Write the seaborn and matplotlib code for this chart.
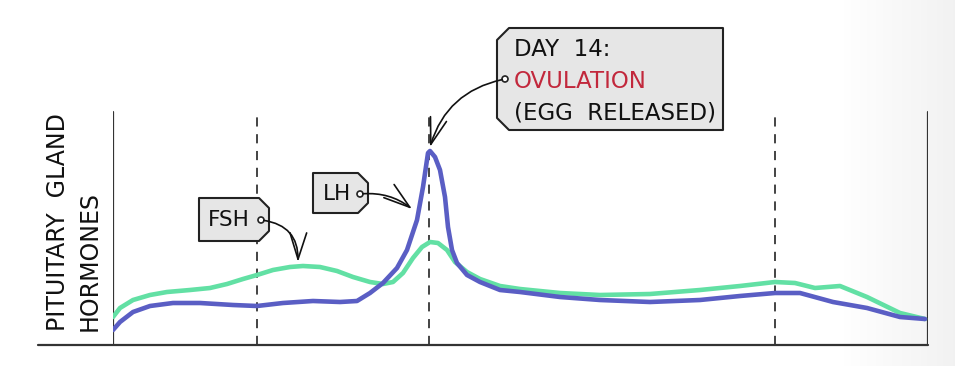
import numpy as np
import pandas as pd
import seaborn as sns
import matplotlib.pyplot as plt
from matplotlib.patches import Polygon, Circle

# position along the cycle (0 = left axis, 815 = right axis), hormone level above the baseline
fsh_pos = [0, 7, 20, 37, 54, 77, 97, 114, 130, 144, 160, 177, 190, 207, 224, 240, 257, 270, 280,
           290, 300, 309, 317, 325, 334, 342, 354, 367, 387, 407, 447, 487, 537, 587, 627, 662,
           682, 702, 727, 754, 787, 812]
fsh_level = [28, 37, 45, 50, 53, 55, 57, 61, 66, 70, 75, 78, 79, 78, 74, 68, 63, 61, 63,
             72, 87, 98, 103, 102, 95, 83, 73, 66, 59, 56, 52, 50, 51, 55, 59, 63,
             62, 57, 59, 48, 32, 26]
lh_pos = [0, 7, 20, 37, 60, 87, 120, 144, 170, 200, 227, 244, 257, 270, 284, 294, 304, 310, 315,
          317, 322, 327, 332, 335, 339, 344, 354, 367, 387, 407, 447, 487, 537, 587, 627, 662,
          687, 720, 754, 787, 812]
lh_level = [15, 23, 33, 39, 42, 42, 40, 39, 42, 44, 43, 44, 52, 62, 77, 95, 125, 158, 192,
            194, 188, 175, 148, 118, 95, 82, 70, 63, 55, 53, 48, 45, 43, 45, 49, 52,
            52, 43, 37, 28, 26]
phase_marks = [144, 316, 662]

df = pd.concat([
    pd.DataFrame({"pos": fsh_pos, "level": fsh_level, "hormone": "FSH"}),
    pd.DataFrame({"pos": lh_pos, "level": lh_level, "hormone": "LH"}),
])

sns.set_style("white")
plt.rcParams["font.family"] = ["DejaVu Sans"]

W, H = 955, 366
fig = plt.figure(figsize=(W / 100, H / 100), dpi=100)

# background: light grey fade on the right
bg = fig.add_axes([0, 0, 1, 1], zorder=0)
grad = np.clip((np.linspace(0, 1, 300) - 0.88) / 0.12, 0, 1)[None, :]
bg.imshow(grad, extent=[0, W, H, 0], aspect="auto", cmap="Greys", vmin=0, vmax=9)
bg.set_xlim(0, W)
bg.set_ylim(H, 0)
bg.axis("off")

# main plot area
x0, x1, base, top = 113, 928, 345, 10
ax = fig.add_axes([x0 / W, (H - base) / H, (x1 - x0) / W, (base - top) / H], zorder=1)
ax.patch.set_alpha(0)
sns.lineplot(data=df, x="pos", y="level", hue="hormone", sort=False,
             palette={"FSH": "#62e0a4", "LH": "#5a5ec4"}, lw=3.3, legend=False, ax=ax)
for ln in ax.lines:
    ln.set_solid_joinstyle("round")
    ln.set_solid_capstyle("round")
ax.lines[0].set_zorder(2)
ax.lines[1].set_zorder(3)
ax.set_xlim(0, x1 - x0)
ax.set_ylim(0, base - top)
line_top = base - 112
for p in phase_marks:
    ax.plot([p, p], [0, line_top], color="#111", lw=1.1, ls=(0, (6, 5)), zorder=1)
for p in (0, x1 - x0):
    ax.plot([p, p], [0, line_top], color="#333", lw=1.6, zorder=1)
ax.axis("off")

# overlay in pixel units for the labels and tags
ov = fig.add_axes([0, 0, 1, 1], zorder=2)
ov.patch.set_alpha(0)
ov.set_xlim(0, W)
ov.set_ylim(H, 0)
ov.axis("off")

ov.plot([38, x1], [base, base], color="#333", lw=1.6)

ov.text(58, 331, "PITUITARY  GLAND", rotation=90, ha="center", va="bottom", fontsize=17, color="#111")
ov.text(90, 331, "HORMONES", rotation=90, ha="center", va="bottom", fontsize=17, color="#111")


def tag(left, top, right, bottom, side="right", cut=10):
    if side == "right":
        pts = [(left, top), (right - cut, top), (right, top + cut), (right, bottom - cut),
               (right - cut, bottom), (left, bottom)]
    else:
        pts = [(left + cut, top), (right, top), (right, bottom), (left + cut, bottom),
               (left, bottom - cut), (left, top + cut)]
    ov.add_patch(Polygon(pts, closed=True, facecolor="#e6e6e6", edgecolor="#222",
                         lw=1.5, joinstyle="round", zorder=3))


def hole(x, y):
    ov.add_patch(Circle((x, y), 3, facecolor="white", edgecolor="#222", lw=1.2, zorder=4))


arrow = dict(arrowstyle="->,head_length=1.9,head_width=0.6", color="#111", lw=1.2,
             shrinkA=2, shrinkB=0)

# FSH tag
tag(199, 198, 269, 241)
hole(261, 220)
ov.text(229, 220, "FSH", ha="center", va="center", fontsize=15.5, color="#111", zorder=5)
ov.annotate("", xy=(298, 262), xytext=(261, 220),
            arrowprops=dict(arrow, connectionstyle="arc3,rad=-0.45"), zorder=4)

# LH tag
tag(313, 173, 368, 213)
hole(360, 194)
ov.text(337, 194, "LH", ha="center", va="center", fontsize=15.5, color="#111", zorder=5)
ov.annotate("", xy=(412, 209), xytext=(360, 194),
            arrowprops=dict(arrow, connectionstyle="arc3,rad=-0.2"), zorder=4)

# day 14 tag
tag(497, 28, 723, 130, side="left", cut=12)
hole(505, 79)
ov.text(514, 49, "DAY  14:", ha="left", va="center", fontsize=16.5, color="#111", zorder=5)
ov.text(514, 81, "OVULATION", ha="left", va="center", fontsize=16.5, color="#c2283c", zorder=5)
ov.text(514, 113, "(EGG  RELEASED)", ha="left", va="center", fontsize=16.5, color="#111", zorder=5)
ov.annotate("", xy=(430, 147), xytext=(505, 79),
            arrowprops=dict(arrow, connectionstyle="arc3,rad=0.3"), zorder=4)

fig.savefig("out.png", dpi=100)
